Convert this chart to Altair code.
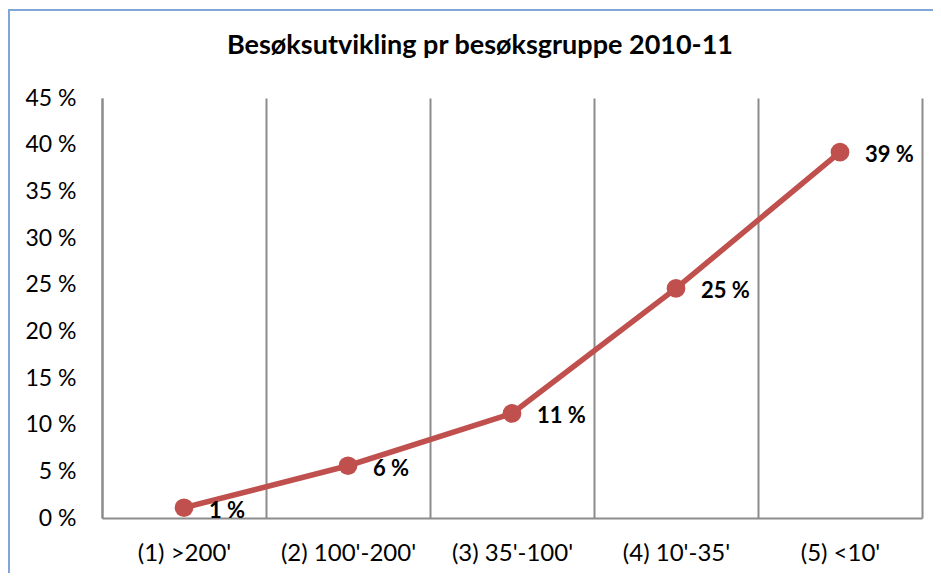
import altair as alt
import pandas as pd

categories = ["(1) >200'", "(2) 100'-200'", "(3) 35'-100'", "(4) 10'-35'", "(5) <10'"]
values = [1.1, 5.6, 11.2, 24.6, 39.2]
labels = ["1 %", "6 %", "11 %", "25 %", "39 %"]
y_ticks = [0, 5, 10, 15, 20, 25, 30, 35, 40, 45]
title = "Besøksutvikling pr besøksgruppe 2010-11"

df = pd.DataFrame({"cat": categories, "val": values, "lab": labels})

FONT = "Lato"
RED = "#C0504D"
GRID = "#8C8C8C"

x_enc = alt.X("cat:N", sort=categories, title=None,
              scale=alt.Scale(paddingInner=0, paddingOuter=0),
              axis=alt.Axis(labelAngle=0, tickBand="extent", grid=True, gridColor=GRID,
                            gridWidth=2, domainColor=GRID, domainWidth=2, ticks=False,
                            labelPadding=23, labelFontSize=24, labelFont=FONT,
                            labelColor="#000000"))
y_enc = alt.Y("val:Q", title=None,
              scale=alt.Scale(domain=[0, 45], nice=False),
              axis=alt.Axis(values=y_ticks, labelExpr="datum.value + ' %'", grid=False,
                            ticks=False, tickSize=0, domainColor=GRID, domainWidth=2,
                            labelPadding=26, labelFontSize=23, labelFont=FONT,
                            labelColor="#000000"))

border = alt.Chart(df).mark_rect(fill=None, stroke="#7FA6D6", strokeWidth=2, clip=False).encode(
    x=alt.value(-93), x2=alt.value(860), y=alt.value(-88), y2=alt.value(480)
)

title_df = pd.DataFrame({"t": [title]})
title_mark = alt.Chart(title_df).mark_text(
    fontSize=27, font=FONT, fontWeight="bold", color="#000000",
    align="center", baseline="middle", clip=False
).encode(text="t:N", x=alt.value(378), y=alt.value(-52))

base = alt.Chart(df).encode(x=x_enc, y=y_enc)
line = base.mark_line(color=RED, strokeWidth=5.5)
pts = base.mark_circle(color=RED, opacity=1, size=350)
txt = base.mark_text(align="left", dx=25, dy=3, fontSize=22, fontWeight="bold",
                     font=FONT, color="#000000").encode(text="lab:N")

chart = alt.layer(border, title_mark, line, pts, txt).properties(
    width=820, height=420,
    autosize=alt.AutoSizeParams(type="none"),
    padding={"left": 94, "top": 90, "right": 11, "bottom": 55},
).configure_view(stroke=None)

chart.save("out.html", embed_options={"renderer": "svg", "actions": False})
